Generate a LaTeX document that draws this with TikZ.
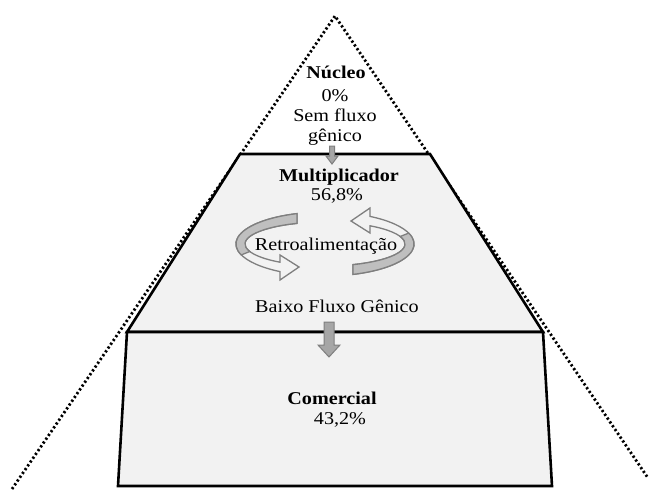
\documentclass[tikz,border=0pt]{standalone}
\usepackage{fontspec}
\setmainfont{Liberation Serif}

\definecolor{boxfill}{HTML}{F2F2F2}
\definecolor{arrowfill}{HTML}{A6A6A6}
\definecolor{arrowline}{HTML}{7F7F7F}
\definecolor{ribbonback}{HTML}{BFBFBF}

\tikzset{
  lbl/.style={font=\fontsize{18}{20}\selectfont, align=center, inner sep=0pt,
    xscale=1.12, transform shape},
  level/.style={draw=black, line width=2.6pt, fill=boxfill},
  flowarrow/.style={draw=arrowline, fill=arrowfill, line width=1pt},
  ribbon/.style={draw=arrowline, line width=1.3pt, fill=boxfill},
  edge dots/.style={line width=2.8pt, dash pattern=on 2.2pt off 2.4pt}
}

% one half of the feedback loop, centred on (325,244)
\newcommand{\feedbackarrow}{%
  \draw[ribbon] (297,213.6)
    arc[start angle=-108.3, end angle=-239.6, x radius=89, y radius=32]
    -- (280,280) -- (299,267) -- (280,255) -- (280,262.2)
    arc[start angle=-235.8, end angle=-110.5, x radius=80, y radius=22] -- cycle;
  \draw[ribbon, fill=ribbonback] (297,213.6)
    arc[start angle=-108.3, end angle=-200, x radius=89, y radius=32]
    -- (249.8,251.5)
    arc[start angle=-200, end angle=-110.5, x radius=80, y radius=22] -- cycle;
}

\begin{document}
\begin{tikzpicture}[x=1pt, y=-1pt]
  \useasboundingbox (0,0) rectangle (649,491);

  % outer pyramid
  \coordinate (apex) at (335,16);
  \coordinate (baseL) at (12,489);
  \coordinate (baseR) at (648,478);
  \draw[edge dots] (baseL) -- (apex) -- (baseR);

  % levels
  \draw[level] (240,154) -- (430,154) -- (543,332) -- (127,332) -- cycle;
  \draw[level] (127,332) -- (543,332) -- (552,486) -- (118,486) -- cycle;

  % texts
  \node[lbl] (nucleo) at (336,72) {\textbf{Núcleo}};
  \node[lbl] (nucleoinfo) at (335,117) {0\%\\Sem fluxo\\gênico};
  \node[lbl] (multi) at (339,177) {\textbf{Multiplicador}};
  \node[lbl] (multipct) at (337,196) {56,8\%};
  \node[lbl] (retro) at (326,246) {Retroalimentação};
  \node[lbl] (baixo) at (337,306) {Baixo Fluxo Gênico};
  \node[lbl] (comercial) at (332,398) {\textbf{Comercial}};
  \node[lbl] (comercialpct) at (340,420) {43,2\%};

  % flow arrows
  \coordinate (down1) at (332,146);
  \draw[flowarrow] (down1) ++(-2.5,0) -- ++(5,0) -- ++(0,10) -- ++(3.5,0)
    -- ++(-6,8) -- ++(-6,-8) -- ++(3.5,0) -- cycle;
  \coordinate (down2) at (329,322);
  \draw[flowarrow] (down2) ++(-5,0) -- ++(10,0) -- ++(0,23) -- ++(6,0)
    -- ++(-11,12) -- ++(-11,-12) -- ++(6,0) -- cycle;

  % feedback loop
  \feedbackarrow
  \begin{scope}[rotate around={180:(325,244)}]
    \feedbackarrow
  \end{scope}
\end{tikzpicture}
\end{document}
